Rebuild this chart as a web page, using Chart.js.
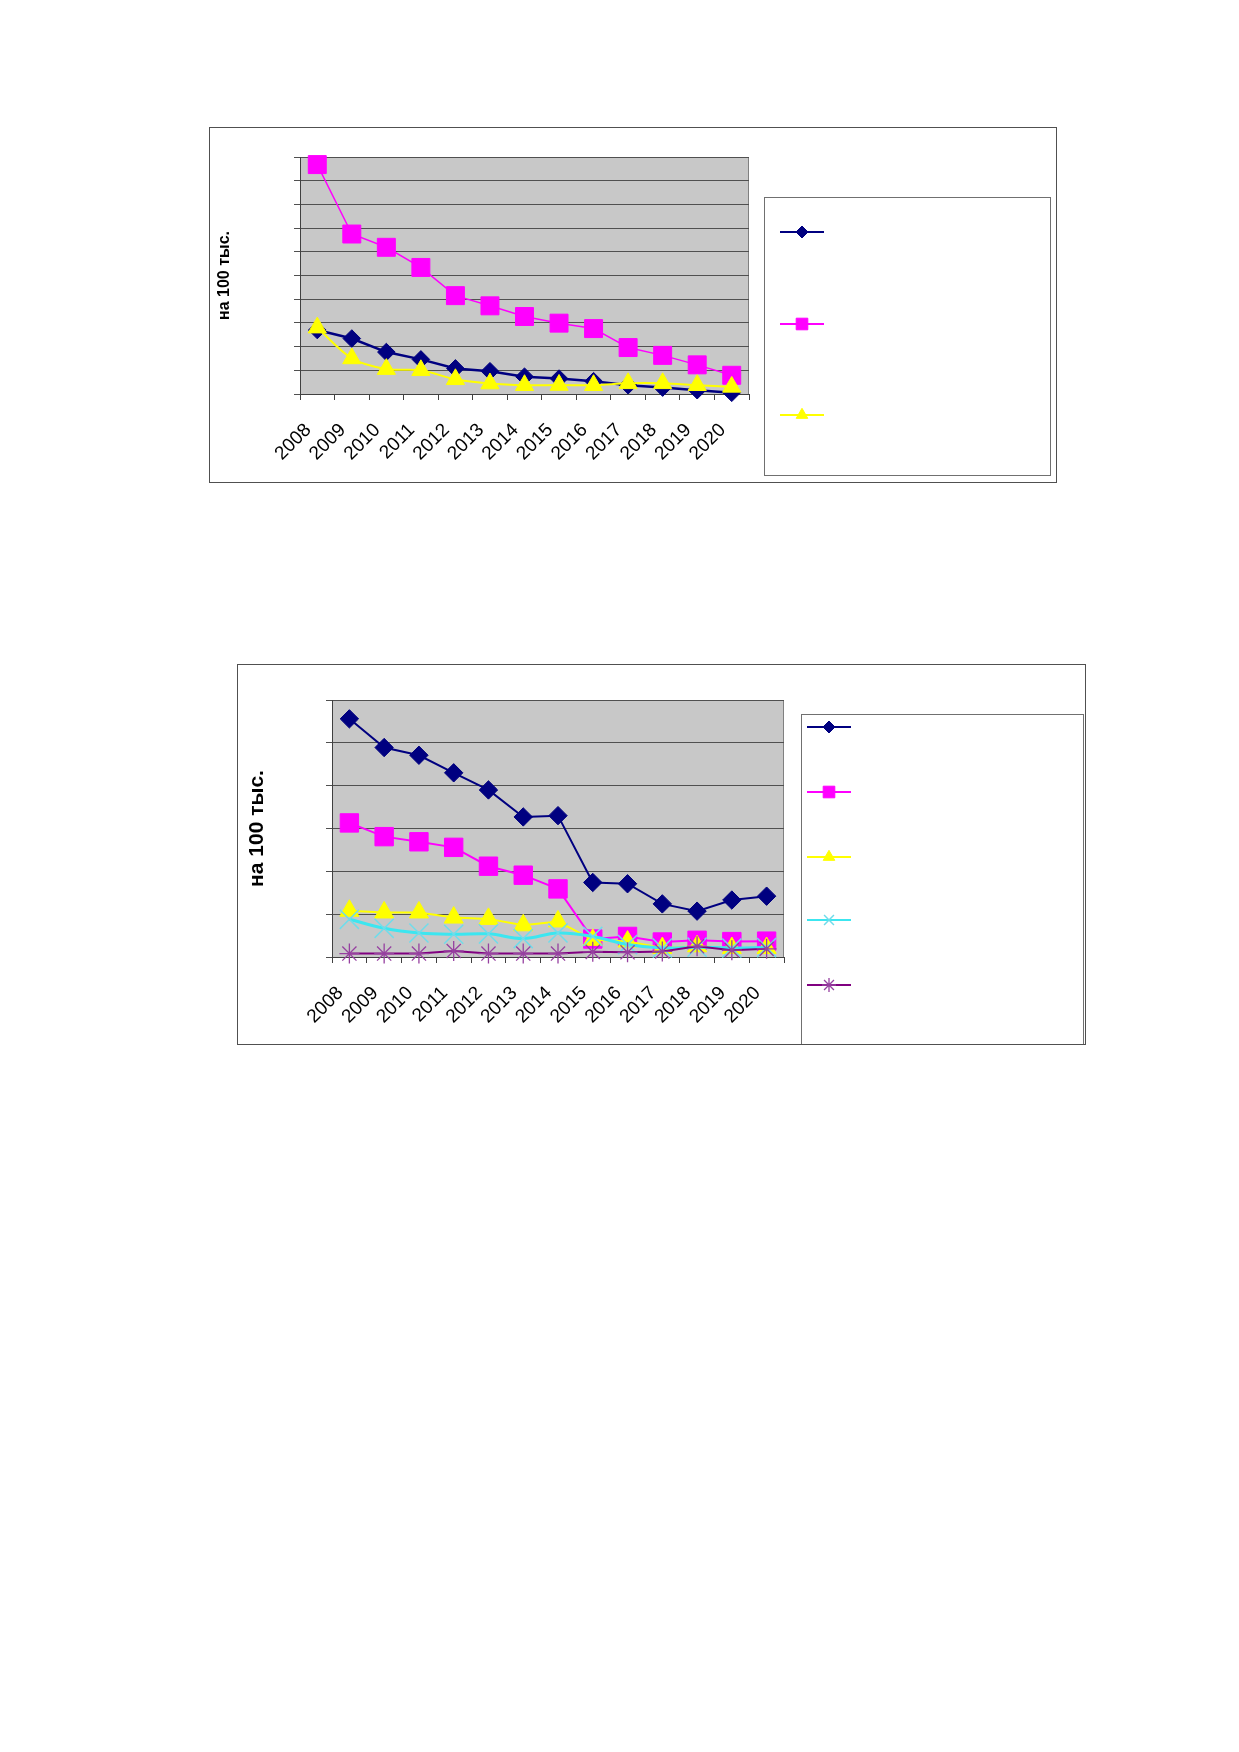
<!DOCTYPE html>
<html lang="ru">
<head>
<meta charset="utf-8">
<title>Графики на 100 тыс.</title>
<script src="https://cdn.jsdelivr.net/npm/chart.js@4.4.1/dist/chart.umd.min.js"></script>
<style>
    body { margin: 0; background: #fff; width: 1239px; height: 1752px; position: relative; }
    .box { position: absolute; border: 1px solid #505050; background: #fff; box-sizing: border-box; overflow: hidden; }
    #box1 { left: 209px; top: 127px; width: 848px; height: 356px; }
    #box2 { left: 237px; top: 664px; width: 849px; height: 381px; }
    .box canvas { position: absolute; left: 0; top: 0; }
</style>
</head>
<body>
<div class="box" id="box1"><canvas id="chart1" width="846" height="354"></canvas></div>
<div class="box" id="box2"><canvas id="chart2" width="847" height="379"></canvas></div>
<script>
// years on the x axis (both charts)
const years = ['2008', '2009', '2010', '2011', '2012', '2013', '2014', '2015', '2016', '2017', '2018', '2019', '2020'];
const yTitle = 'на 100 тыс.';

// chart 1 values (in gridline units, no tick labels in the source)
const top1Navy = [2.70, 2.34, 1.77, 1.46, 1.08, 0.96, 0.73, 0.65, 0.54, 0.37, 0.27, 0.16, 0.05];
const top1Magenta = [9.68, 6.75, 6.19, 5.34, 4.15, 3.72, 3.27, 2.99, 2.76, 1.96, 1.63, 1.23, 0.79];
const top1Yellow = [2.80, 1.50, 1.05, 1.00, 0.62, 0.44, 0.37, 0.38, 0.37, 0.45, 0.45, 0.37, 0.30];

// chart 2 values
const bot2Navy = [5.56, 4.89, 4.71, 4.30, 3.90, 3.27, 3.30, 1.74, 1.71, 1.24, 1.07, 1.33, 1.42];
const bot2Magenta = [3.13, 2.81, 2.69, 2.56, 2.12, 1.91, 1.59, 0.42, 0.48, 0.35, 0.39, 0.36, 0.37];
const bot2Yellow = [1.08, 1.04, 1.04, 0.92, 0.89, 0.74, 0.83, 0.40, 0.36, 0.21, 0.25, 0.21, 0.21];
const bot2Cyan = [0.88, 0.67, 0.56, 0.53, 0.54, 0.43, 0.56, 0.48, 0.29, 0.21, 0.23, 0.21, 0.22];
const bot2Purple = [0.08, 0.08, 0.08, 0.14, 0.08, 0.08, 0.08, 0.12, 0.11, 0.13, 0.25, 0.16, 0.19];

document.addEventListener('DOMContentLoaded', function() {
    Chart.defaults.font.family = '"Liberation Sans", Arial, sans-serif';
    Chart.defaults.color = '#000';

    // gray plot area like the old Excel charts
    const plotBackground = {
        id: 'plotBackground',
        beforeDraw(chart) {
            const ctx = chart.ctx;
            const a = chart.chartArea;
            ctx.save();
            ctx.fillStyle = '#C8C8C8';
            ctx.fillRect(a.left, a.top, a.right - a.left, a.bottom - a.top);
            ctx.strokeStyle = '#808080';
            ctx.lineWidth = 1;
            ctx.beginPath();
            ctx.moveTo(a.left, a.top + 0.5);
            ctx.lineTo(a.right - 0.5, a.top + 0.5);
            ctx.lineTo(a.right - 0.5, a.bottom);
            ctx.stroke();
            ctx.restore();
        }
    };

    // legend box with markers only (the source has no legend text)
    const boxLegend = {
        id: 'boxLegend',
        afterDraw(chart, args, opts) {
            const ctx = chart.ctx;
            ctx.save();
            ctx.strokeStyle = '#707070';
            ctx.lineWidth = 1;
            ctx.strokeRect(opts.left + 0.5, opts.top + 0.5, opts.right - opts.left, opts.bottom - opts.top);
            chart.data.datasets.forEach(function(ds, i) {
                const y = opts.rows[i];
                ctx.strokeStyle = ds.borderColor;
                ctx.lineWidth = 2;
                ctx.beginPath();
                ctx.moveTo(opts.x1, y);
                ctx.lineTo(opts.x2, y);
                ctx.stroke();
                ctx.fillStyle = ds.pointBackgroundColor;
                ctx.strokeStyle = ds.pointBorderColor;
                ctx.lineWidth = ds.pointBorderWidth;
                Chart.helpers.drawPoint(ctx, {
                    pointStyle: ds.pointStyle,
                    radius: opts.radius[i],
                    rotation: 0,
                    borderWidth: ds.pointBorderWidth
                }, (opts.x1 + opts.x2) / 2, y);
            });
            ctx.restore();
        }
    };

    function series(data, color, style, radius, lineWidth, markColor, markWidth, tension, n, i) {
        return {
            data: data,
            borderColor: color,
            borderWidth: lineWidth,
            pointStyle: style,
            pointRadius: radius,
            pointBackgroundColor: markColor,
            pointBorderColor: markColor,
            pointBorderWidth: markWidth,
            tension: tension,
            clip: false,
            order: n - i // later series drawn on top
        };
    }

    function makeChart(id, datasets, s) {
        const ctx = document.getElementById(id).getContext('2d');
        return new Chart(ctx, {
            type: 'line',
            data: { labels: years, datasets: datasets },
            options: {
                responsive: false,
                animation: false,
                layout: { padding: { left: s.padLeft, top: s.padTop, right: s.padRight, bottom: 0 } },
                plugins: {
                    legend: { display: false },
                    tooltip: { enabled: false },
                    boxLegend: s.legend
                },
                scales: {
                    x: {
                        offset: true,
                        grid: { offset: true, drawOnChartArea: false, drawTicks: true, tickLength: 6, color: '#404040' },
                        border: { color: '#404040' },
                        ticks: {
                            autoSkip: false, minRotation: 45, maxRotation: 45,
                            padding: s.tickPad, labelOffset: -9,
                            font: { size: s.tickSize }, color: '#000'
                        },
                        afterFit: function(scale) { scale.height = s.xHeight; }
                    },
                    y: {
                        min: 0, max: s.yMax,
                        ticks: { stepSize: 1, display: false },
                        grid: { color: '#505050', tickLength: 6, drawTicks: true },
                        border: { color: '#404040' },
                        title: {
                            display: true, text: yTitle, padding: 0,
                            font: { size: s.titleSize, weight: 'bold' }, color: '#000'
                        },
                        afterFit: function(scale) { scale.width = s.yWidth; }
                    }
                }
            },
            plugins: [plotBackground, boxLegend]
        });
    }

    makeChart('chart1', [
        series(top1Navy, '#000080', 'rectRot', 8.8, 2.5, '#000080', 1, 0, 3, 0),
        series(top1Magenta, '#FF00FF', 'rect', 12.7, 1.5, '#FF00FF', 1, 0, 3, 1),
        series(top1Yellow, '#FFFF00', 'triangle', 10.5, 2, '#FFFF00', 1, 0.3, 3, 2)
    ], {
        padLeft: 5, padTop: 29, padRight: 307, yWidth: 85, xHeight: 88,
        yMax: 10, tickSize: 19, tickPad: 19, titleSize: 16,
        legend: { left: 554, top: 69, right: 840, bottom: 347, rows: [104, 196, 287], x1: 570, x2: 614, radius: [6, 8.2, 6.7] }
    });

    makeChart('chart2', [
        series(bot2Navy, '#000080', 'rectRot', 9.2, 2, '#000080', 1, 0, 5, 0),
        series(bot2Magenta, '#FF00FF', 'rect', 13, 2, '#FF00FF', 1, 0, 5, 1),
        series(bot2Yellow, '#FFFF00', 'triangle', 11, 2, '#FFFF00', 1, 0, 5, 2),
        series(bot2Cyan, '#3CE6F0', 'crossRot', 13.5, 3, '#70DCEA', 1.5, 0.4, 5, 3),
        series(bot2Purple, '#800080', 'star', 10, 2, '#9640A0', 1.3, 0, 5, 4)
    ], {
        padLeft: 7, padTop: 35, padRight: 301, yWidth: 87, xHeight: 87,
        yMax: 6, tickSize: 19, tickPad: 19, titleSize: 21,
        legend: { left: 563, top: 49, right: 845, bottom: 400, rows: [62, 127, 192, 255, 320], x1: 569, x2: 613, radius: [6, 8.2, 6.7, 7, 7] }
    });
});
</script>
</body>
</html>
